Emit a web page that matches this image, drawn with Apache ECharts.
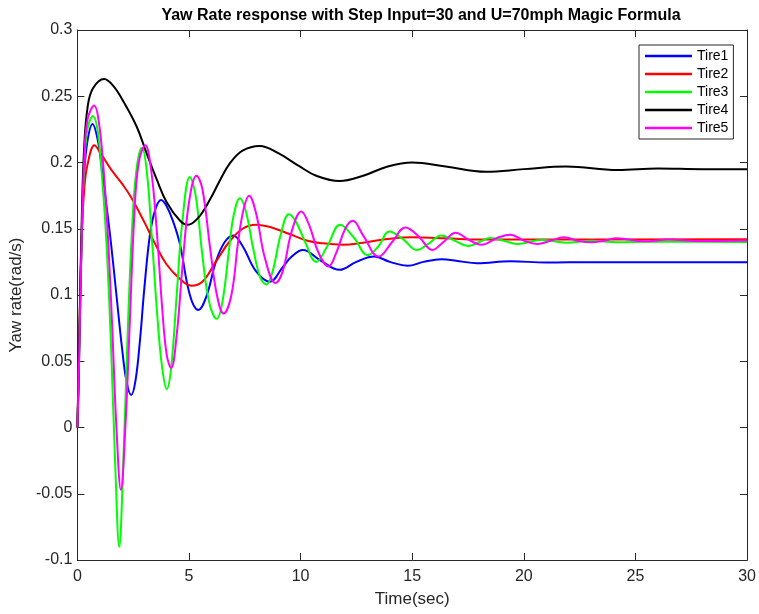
<!DOCTYPE html>
<html>
<head>
<meta charset="utf-8">
<script src="https://cdn.jsdelivr.net/npm/echarts@6/dist/echarts.min.js"></script>
<style>
html,body{margin:0;padding:0;background:#fff;}
#c{width:759px;height:614px;}
</style>
</head>
<body>
<div id="c"></div>
<script>
// ---- data ----
var seriesNames = ['Tire1', 'Tire2', 'Tire3', 'Tire4', 'Tire5'];
var xTicks = [0, 5, 10, 15, 20, 25, 30];
var yTicks = [-0.1, -0.05, 0, 0.05, 0.1, 0.15, 0.2, 0.25, 0.3];

var tire1T = [0, 0.05, 0.1, 0.2, 0.3, 0.45, 0.68, 0.9, 1.1, 1.3, 1.5, 1.75, 2.0, 2.2, 2.41, 2.6, 2.8, 3.0, 3.26, 3.5, 3.75, 4.0, 4.3, 4.6, 5.04, 5.42, 5.8, 6.2, 6.6, 6.98, 7.4, 8.0, 8.62, 9.2, 9.6, 10.1, 10.9, 11.74, 12.5, 13.3, 14.0, 14.8, 15.5, 16.3, 17.1, 17.9, 19.4, 21, 23, 30];
var tire1Y = [0, 0.03, 0.07, 0.145, 0.19, 0.216, 0.229, 0.218, 0.195, 0.168, 0.14, 0.1, 0.06, 0.035, 0.0245, 0.035, 0.065, 0.105, 0.1466, 0.165, 0.1717, 0.167, 0.155, 0.138, 0.1, 0.0887, 0.1, 0.125, 0.14, 0.145, 0.137, 0.118, 0.11, 0.121, 0.129, 0.134, 0.126, 0.119, 0.125, 0.129, 0.125, 0.122, 0.125, 0.127, 0.1255, 0.124, 0.1255, 0.1245, 0.1248, 0.1248];

var tire2T = [0, 0.05, 0.1, 0.2, 0.3, 0.45, 0.77, 1.0, 1.5, 2.0, 2.4, 3.0, 3.5, 4.0, 4.6, 5.1, 5.6, 6.2, 6.8, 7.4, 8.0, 8.7, 9.5, 10.3, 11.0, 11.9, 12.8, 13.8, 15.0, 16.5, 18, 20, 30];
var tire2Y = [0, 0.04, 0.08, 0.145, 0.178, 0.198, 0.213, 0.208, 0.195, 0.184, 0.174, 0.155, 0.138, 0.123, 0.112, 0.107, 0.11, 0.125, 0.14, 0.15, 0.153, 0.151, 0.146, 0.141, 0.139, 0.138, 0.1395, 0.142, 0.1435, 0.1428, 0.1418, 0.1418, 0.142];

var tire3T = [0, 0.05, 0.1, 0.2, 0.3, 0.45, 0.7, 0.9, 1.1, 1.3, 1.5, 1.7, 1.875, 2.05, 2.25, 2.45, 2.65, 2.89, 3.1, 3.35, 3.6, 3.8, 4.0, 4.2, 4.45, 4.7, 5.04, 5.3, 5.6, 5.9, 6.24, 6.5, 6.8, 7.0, 7.28, 7.55, 7.9, 8.2, 8.47, 8.75, 9.1, 9.48, 9.8, 10.2, 10.7, 11.2, 11.77, 12.4, 13.0, 13.5, 13.97, 14.6, 15.2, 15.75, 16.3, 16.9, 17.5, 18.0, 18.5, 19.1, 19.7, 20.8, 21.9, 23.0, 24.2, 25.5, 30];
var tire3Y = [0, 0.035, 0.075, 0.15, 0.195, 0.225, 0.235, 0.225, 0.19, 0.14, 0.065, -0.03, -0.09, -0.03, 0.07, 0.15, 0.195, 0.211, 0.195, 0.14, 0.08, 0.045, 0.029, 0.045, 0.1, 0.155, 0.189, 0.175, 0.13, 0.095, 0.082, 0.095, 0.135, 0.16, 0.173, 0.163, 0.133, 0.113, 0.108, 0.118, 0.145, 0.161, 0.155, 0.14, 0.125, 0.137, 0.153, 0.143, 0.13, 0.137, 0.148, 0.142, 0.134, 0.139, 0.145, 0.141, 0.137, 0.14, 0.143, 0.141, 0.1385, 0.1415, 0.1395, 0.141, 0.1398, 0.1402, 0.1400];

var tire4T = [0, 0.05, 0.1, 0.2, 0.3, 0.46, 0.7, 1.2, 1.6, 2.1, 2.66, 3.1, 3.56, 4.0, 4.6, 4.95, 5.4, 5.94, 6.4, 6.83, 7.4, 8.17, 9.0, 9.96, 10.7, 11.74, 12.8, 13.9, 15.0, 16.5, 18.3, 20, 21.9, 24.2, 26, 28, 30];
var tire4Y = [0, 0.035, 0.08, 0.16, 0.21, 0.242, 0.256, 0.263, 0.258, 0.245, 0.227, 0.207, 0.187, 0.17, 0.156, 0.153, 0.158, 0.172, 0.187, 0.1994, 0.209, 0.2125, 0.207, 0.197, 0.19, 0.186, 0.19, 0.197, 0.2, 0.197, 0.193, 0.195, 0.197, 0.1943, 0.1955, 0.195, 0.195];

var tire5T = [0, 0.05, 0.1, 0.2, 0.3, 0.45, 0.76, 0.95, 1.15, 1.35, 1.55, 1.75, 1.95, 2.15, 2.35, 2.55, 2.75, 3.04, 3.3, 3.55, 3.8, 4.0, 4.2, 4.45, 4.7, 5.0, 5.34, 5.6, 5.95, 6.25, 6.55, 6.9, 7.2, 7.45, 7.69, 8.0, 8.4, 8.88, 9.2, 9.6, 10.03, 10.4, 10.8, 11.25, 11.6, 12.0, 12.34, 12.8, 13.5, 14.1, 14.7, 15.3, 15.9, 16.4, 16.95, 17.5, 18.1, 18.8, 19.4, 20.0, 20.6, 21.2, 21.8, 22.4, 23.0, 23.6, 24.15, 25.4, 26.5, 27.7, 30];
var tire5Y = [0, 0.03, 0.07, 0.15, 0.2, 0.232, 0.243, 0.232, 0.2, 0.15, 0.08, 0.0, -0.047, 0.0, 0.08, 0.16, 0.2, 0.213, 0.195, 0.15, 0.09, 0.055, 0.045, 0.07, 0.12, 0.17, 0.19, 0.18, 0.135, 0.1, 0.086, 0.1, 0.14, 0.165, 0.175, 0.162, 0.128, 0.109, 0.118, 0.148, 0.163, 0.152, 0.132, 0.1215, 0.132, 0.15, 0.156, 0.145, 0.129, 0.14, 0.151, 0.144, 0.134, 0.14, 0.147, 0.142, 0.138, 0.143, 0.1455, 0.141, 0.1385, 0.141, 0.1435, 0.141, 0.1398, 0.141, 0.1428, 0.1405, 0.1418, 0.1408, 0.1412];

var seriesColors = ['#0000ff', '#ff0000', '#00ff00', '#000000', '#ff00ff'];
// ---------------------------------------

function zip(t, y) { var o = []; for (var i = 0; i < t.length; i++) o.push([t[i], y[i]]); return o; }
var allT = [tire1T, tire2T, tire3T, tire4T, tire5T];
var allY = [tire1Y, tire2Y, tire3Y, tire4Y, tire5Y];

var axisColor = '#262626';
var font = 'Liberation Sans, Arial, Helvetica, sans-serif';
function fmt(v) { return String(parseFloat(Number(v).toFixed(3))); }

var xMin = xTicks[0], xMax = xTicks[xTicks.length - 1], xInt = xTicks[1] - xTicks[0];
var yMin = yTicks[0], yMax = yTicks[yTicks.length - 1], yInt = 0.05;

var commonTick = { show: true, inside: true, length: 7, lineStyle: { color: axisColor, width: 1 } };

var chart = echarts.init(document.getElementById('c'), null, { renderer: 'canvas' });
chart.setOption({
  animation: false,
  backgroundColor: '#ffffff',
  title: {
    text: 'Yaw Rate response with Step Input=30 and U=70mph Magic Formula',
    left: 416, top: 3, textAlign: 'center',
    textStyle: { fontFamily: font, fontSize: 16, fontWeight: 'bold', color: '#000' }
  },
  legend: {
    orient: 'vertical', left: 639, top: 45,
    data: seriesNames.map(function (n) { return { name: n, icon: 'rect' }; }),
    backgroundColor: '#fff', borderColor: axisColor, borderWidth: 1,
    padding: [4, 5, 4, 6], itemGap: 4, itemWidth: 47, itemHeight: 2.5,
    textStyle: { fontFamily: font, fontSize: 14, color: '#000', lineHeight: 14 }
  },
  grid: { left: 77, right: 10, top: 30, bottom: 54, containLabel: false, show: false },
  xAxis: [{
    type: 'value', min: xMin, max: xMax, interval: xInt, position: 'bottom',
    name: 'Time(sec)', nameLocation: 'middle', nameGap: 31,
    nameTextStyle: { fontFamily: font, fontSize: 17, color: axisColor },
    axisLine: { show: true, onZero: false, lineStyle: { color: axisColor } },
    axisTick: commonTick,
    axisLabel: { fontFamily: font, fontSize: 16, color: axisColor, margin: 9, formatter: fmt },
    splitLine: { show: false }
  }, {
    type: 'value', min: xMin, max: xMax, interval: xInt, position: 'top',
    axisLine: { show: true, onZero: false, lineStyle: { color: axisColor } },
    axisTick: commonTick, axisLabel: { show: false }, splitLine: { show: false }
  }],
  yAxis: [{
    type: 'value', min: yMin, max: yMax, interval: yInt, position: 'left',
    name: 'Yaw rate(rad/s)', nameLocation: 'middle', nameGap: 45, nameRotate: 90,
    nameTextStyle: { fontFamily: font, fontSize: 17, color: axisColor },
    axisLine: { show: true, onZero: false, lineStyle: { color: axisColor } },
    axisTick: commonTick,
    axisLabel: { fontFamily: font, fontSize: 16, color: axisColor, margin: 5, formatter: fmt },
    splitLine: { show: false }
  }, {
    type: 'value', min: yMin, max: yMax, interval: yInt, position: 'right',
    axisLine: { show: true, onZero: false, lineStyle: { color: axisColor } },
    axisTick: commonTick, axisLabel: { show: false }, splitLine: { show: false }
  }],
  series: seriesNames.map(function (n, i) {
    return {
      name: n, type: 'line', xAxisIndex: 0, yAxisIndex: 0,
      data: zip(allT[i], allY[i]),
      smooth: 0.4, symbol: 'none', clip: true,
      color: seriesColors[i],
      lineStyle: { color: seriesColors[i], width: 2 },
      z: 2 + i
    };
  })
});
</script>
</body>
</html>
